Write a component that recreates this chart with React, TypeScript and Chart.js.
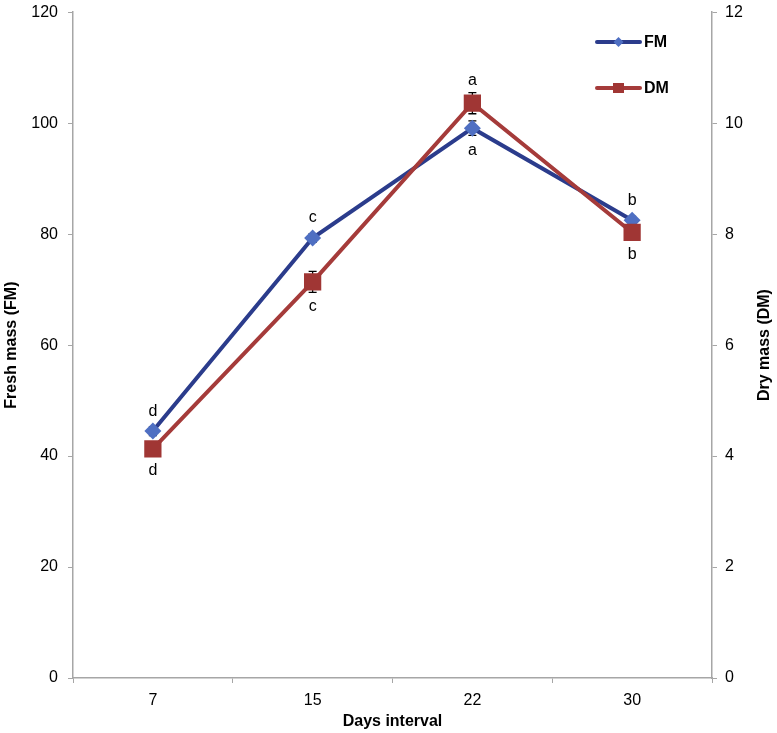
import React, { useEffect, useRef } from "react";
import { Chart, registerables } from "chart.js";

Chart.register(...registerables);

const categories = ["7", "15", "22", "30"];
const fmValues = [44.5, 79.3, 99.1, 82.5];
const fmErrors = [0.8, 0.8, 1.3, 0.7];
const dmValues = [4.13, 7.14, 10.36, 8.03];
const dmErrors = [0.12, 0.19, 0.19, 0.12];
const fmLetters = ["d", "c", "a", "b"];
const fmLetterPos = ["above", "above", "below", "above"];
const dmLetters = ["d", "c", "a", "b"];
const dmLetterPos = ["below", "below", "above", "below"];
const leftTicks = [0, 20, 40, 60, 80, 100, 120];
const rightTicks = [0, 2, 4, 6, 8, 10, 12];

const FM_LINE = "#2B3C8C";
const FM_MARK = "#4F6FC2";
const DM_LINE = "#A53B3A";
const DM_MARK = "#A03634";
const AXIS = "#A6A6A6";
const FONT = "'Liberation Sans', Arial, sans-serif";

const errorBarPlugin = {
  id: "errorBars",
  beforeDatasetsDraw(chart: any) {
    const ctx = chart.ctx;
    const x = chart.scales.x;
    ctx.save();
    ctx.strokeStyle = "#000";
    ctx.lineWidth = 1.3;
    chart.data.datasets.forEach((ds: any) => {
      const ys = chart.scales[ds.yAxisID];
      ds.data.forEach((v: number, i: number) => {
        const e = ds.errors[i];
        const px = x.getPixelForValue(i);
        const t = ys.getPixelForValue(v + e);
        const b = ys.getPixelForValue(v - e);
        ctx.beginPath();
        ctx.moveTo(px, t);
        ctx.lineTo(px, b);
        ctx.moveTo(px - 4, t);
        ctx.lineTo(px + 4, t);
        ctx.moveTo(px - 4, b);
        ctx.lineTo(px + 4, b);
        ctx.stroke();
      });
    });
    ctx.restore();
  },
};

const annotPlugin = {
  id: "annot",
  afterDraw(chart: any) {
    const ctx = chart.ctx;
    const x = chart.scales.x;
    const area = chart.chartArea;
    ctx.save();
    // letters
    ctx.fillStyle = "#000";
    ctx.font = `16px ${FONT}`;
    ctx.textAlign = "center";
    ctx.textBaseline = "middle";
    chart.data.datasets.forEach((ds: any) => {
      const ys = chart.scales[ds.yAxisID];
      ds.data.forEach((v: number, i: number) => {
        const px = x.getPixelForValue(i);
        const py = ys.getPixelForValue(v);
        const t = ys.getPixelForValue(v + ds.errors[i]);
        const b = ys.getPixelForValue(v - ds.errors[i]);
        const y =
          ds.letterPos[i] === "above"
            ? Math.min(py - 8, t) - 12
            : Math.max(py + 8, b) + 14;
        ctx.fillText(ds.letters[i], px, y);
      });
    });
    // axis titles
    ctx.font = `bold 16px ${FONT}`;
    ctx.fillText("Days interval", (area.left + area.right) / 2, 722);
    const cy = (area.top + area.bottom) / 2;
    ctx.save();
    ctx.translate(12, cy);
    ctx.rotate(-Math.PI / 2);
    ctx.fillText("Fresh mass (FM)", 0, 0);
    ctx.restore();
    ctx.save();
    ctx.translate(765, cy);
    ctx.rotate(-Math.PI / 2);
    ctx.fillText("Dry mass (DM)", 0, 0);
    ctx.restore();
    // legend
    const items = [
      { label: "FM", y: 42, line: FM_LINE, mark: FM_MARK, style: "diamond" },
      { label: "DM", y: 88, line: DM_LINE, mark: DM_MARK, style: "square" },
    ];
    items.forEach((it) => {
      ctx.strokeStyle = it.line;
      ctx.lineWidth = 4;
      ctx.lineCap = "round";
      ctx.beginPath();
      ctx.moveTo(597, it.y);
      ctx.lineTo(640, it.y);
      ctx.stroke();
      ctx.fillStyle = it.mark;
      ctx.beginPath();
      if (it.style === "diamond") {
        ctx.moveTo(618.5, it.y - 5);
        ctx.lineTo(623.5, it.y);
        ctx.lineTo(618.5, it.y + 5);
        ctx.lineTo(613.5, it.y);
        ctx.closePath();
      } else {
        ctx.rect(613, it.y - 5, 11, 10);
      }
      ctx.fill();
      ctx.fillStyle = "#000";
      ctx.textAlign = "left";
      ctx.font = `bold 16px ${FONT}`;
      ctx.fillText(it.label, 644, it.y + 1);
    });
    ctx.restore();
  },
};

export default function App() {
  const ref = useRef<HTMLCanvasElement | null>(null);
  useEffect(() => {
    document.body.style.margin = "0";
    const canvas = ref.current!;
    const tickFont = { family: FONT, size: 16 };
    const fitY = (w: number) => (s: any) => {
      s.width = w;
      s.paddingTop = 0;
      s.paddingBottom = 0;
    };
    const chart = new Chart(canvas, {
      type: "line",
      data: {
        labels: categories,
        datasets: [
          {
            label: "FM",
            data: fmValues,
            yAxisID: "y",
            borderColor: FM_LINE,
            borderWidth: 4,
            pointStyle: "rectRot",
            pointRadius: 8.5,
            pointBackgroundColor: FM_MARK,
            pointBorderColor: FM_MARK,
            pointBorderWidth: 0,
            tension: 0,
            order: 1,
            errors: fmErrors,
            letters: fmLetters,
            letterPos: fmLetterPos,
          } as any,
          {
            label: "DM",
            data: dmValues,
            yAxisID: "y2",
            borderColor: DM_LINE,
            borderWidth: 4,
            pointStyle: "rect",
            pointRadius: 12.2,
            pointBackgroundColor: DM_MARK,
            pointBorderColor: DM_MARK,
            pointBorderWidth: 0,
            tension: 0,
            order: 0,
            errors: dmErrors,
            letters: dmLetters,
            letterPos: dmLetterPos,
          } as any,
        ],
      },
      options: {
        responsive: false,
        animation: false,
        layout: { padding: { top: 7, left: 0, right: 0, bottom: 0 } },
        plugins: { legend: { display: false }, tooltip: { enabled: false } },
        scales: {
          x: {
            type: "category",
            offset: true,
            grid: { display: true, drawOnChartArea: false, offset: true, tickLength: 5, color: AXIS, lineWidth: 1 },
            border: { color: AXIS, width: 1.5 },
            ticks: { font: tickFont, color: "#000", padding: 8, maxRotation: 0 },
            afterFit: (s: any) => {
              s.height = 55;
              s.paddingLeft = 0;
              s.paddingRight = 0;
            },
          },
          y: {
            position: "left",
            min: 0,
            max: 120,
            afterBuildTicks: (s: any) => { s.ticks = leftTicks.map((v) => ({ value: v })); },
            grid: { display: true, drawOnChartArea: false, tickLength: 5, color: AXIS },
            border: { color: AXIS, width: 1.5 },
            ticks: { font: tickFont, color: "#000", padding: 10 },
            afterFit: fitY(73),
          },
          y2: {
            position: "right",
            min: 0,
            max: 12,
            afterBuildTicks: (s: any) => { s.ticks = rightTicks.map((v) => ({ value: v })); },
            grid: { display: true, drawOnChartArea: false, tickLength: 5, color: AXIS },
            border: { color: AXIS, width: 1.5 },
            ticks: { font: tickFont, color: "#000", padding: 8 },
            afterFit: fitY(65),
          },
        },
      },
      plugins: [errorBarPlugin, annotPlugin],
    });
    return () => chart.destroy();
  }, []);
  return <canvas ref={ref} width={777} height={733} style={{ display: "block" }} />;
}
